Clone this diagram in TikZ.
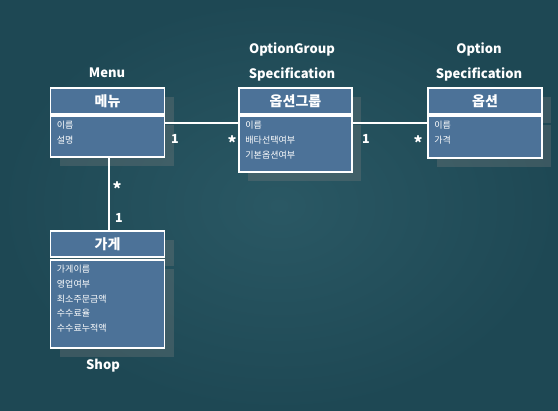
\documentclass[tikz,border=0pt]{standalone}
\usepackage{fontspec}
\newfontfamily\kr{Noto Sans CJK KR}
\usetikzlibrary{positioning, calc, shadows}
\definecolor{boardlight}{RGB}{42,88,100}
\definecolor{boarddark}{RGB}{30,72,84}
\definecolor{classblue}{RGB}{76,114,152}

\begin{document}
\begin{tikzpicture}[x=1pt, y=-1pt,
  box/.style={rectangle, draw=white, line width=1.5pt, fill=classblue, inner sep=0pt,
    drop shadow={shadow xshift=9pt, shadow yshift=-9pt, opacity=.3}},
  head/.style={box, minimum height=26pt, text=white, font=\kr\bfseries\fontsize{14}{16}\selectfont},
  body/.style={box},
  attr/.style={anchor=north west, align=left, inner sep=0pt, text=white, font=\kr\fontsize{9}{14.6}\selectfont},
  title/.style={text=white, align=center, font=\kr\bfseries\fontsize{13}{25}\selectfont},
  mult/.style={text=white, inner sep=0pt, font=\kr\bfseries\fontsize{12.5}{13}\selectfont},
  star/.style={mult, font=\kr\bfseries\fontsize{17}{17}\selectfont},
  link/.style={draw=white, line width=1.5pt}
]
  % Board
  \shade[inner color=boardlight, outer color=boarddark] (0,0) rectangle (558,411);
  \useasboundingbox (0,0) rectangle (558,411);

  % Classes
  \node[head, minimum width=114pt] (menuH) at (107.5,101) {메뉴};
  \node[body, minimum width=114pt, minimum height=41pt] (menuB) at (107.5,136.5) {};
  \node[attr] (menuA) at ([xshift=7pt,yshift=-6pt]menuB.north west) {이름\\설명};

  \node[head, minimum width=113pt] (grpH) at (295.5,101) {옵션그룹};
  \node[body, minimum width=113pt, minimum height=56pt] (grpB) at (295.5,144) {};
  \node[attr] (grpA) at ([xshift=7pt,yshift=-6pt]grpB.north west) {이름\\배타선택여부\\기본옵션여부};

  \node[head, minimum width=114pt] (optH) at (485,101) {옵션};
  \node[body, minimum width=114pt, minimum height=42pt] (optB) at (485,137) {};
  \node[attr] (optA) at ([xshift=7pt,yshift=-6pt]optB.north west) {이름\\가격};

  \node[head, minimum width=114pt] (shopH) at (107.5,244) {가게};
  \node[body, minimum width=114pt, minimum height=88pt] (shopB) at (107.5,304) {};
  \node[attr] (shopA) at ([xshift=7pt,yshift=-6pt]shopB.north west) {가게이름\\영업여부\\최소주문금액\\수수료율\\수수료누적액};

  % Connectors
  \draw[link] ([yshift=-8pt]menuB.north east) -- ([yshift=-8pt]grpB.north west);
  \draw[link] ([yshift=-8pt]grpB.north east) -- ([yshift=-8pt]optB.north west);
  \draw[link] ([xshift=1.5pt]menuB.south) -- ([xshift=1.5pt]shopH.north);

  % Multiplicities
  \node[mult] (m1) at (175,139) {1};
  \node[star] (m2) at (232,143) {*};
  \node[mult] (m3) at (366,139) {1};
  \node[star] (m4) at (418,143) {*};
  \node[star] (m5) at (117,189) {*};
  \node[mult] (m6) at (119,218) {1};

  % Titles
  \node[title] (menuT) at (107,73) {Menu};
  \node[title] (grpT) at (292,61.5) {OptionGroup\\Specification};
  \node[title] (optT) at (479,61.5) {Option\\Specification};
  \node[title] (shopT) at (103,366) {Shop};
\end{tikzpicture}
\end{document}
